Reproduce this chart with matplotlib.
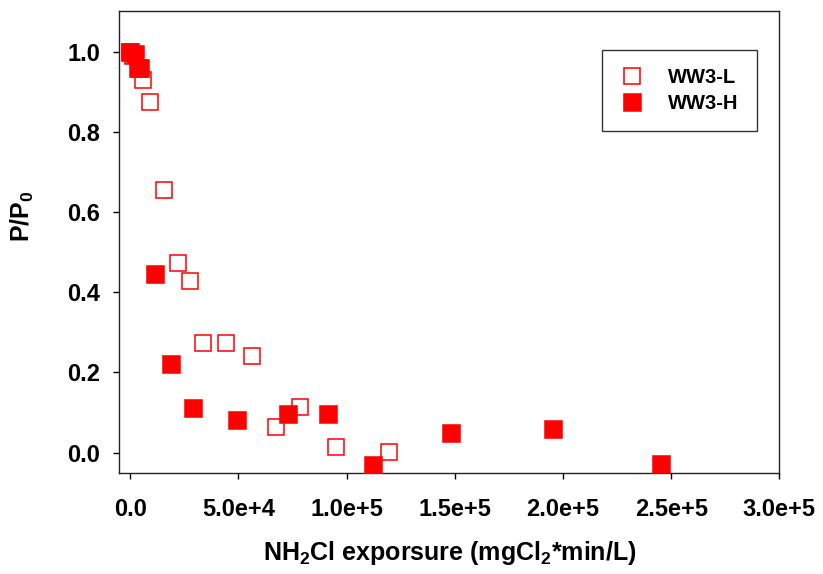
import numpy as np
import matplotlib
matplotlib.use("Agg")
import matplotlib.pyplot as plt

plt.rcParams['font.family'] = ['Liberation Sans', 'DejaVu Sans']
plt.rcParams['font.weight'] = 'bold'
plt.rcParams['mathtext.fontset'] = 'custom'
plt.rcParams['mathtext.rm'] = 'Liberation Sans:bold'
plt.rcParams['mathtext.default'] = 'rm'

# WW3-L (open squares)
low_x = [0, 1500, 6000, 9240, 15560, 22320, 27710, 33720, 44340, 56200,
         67440, 78600, 95150, 119630]
low_y = [1.0, 0.99, 0.929, 0.875, 0.656, 0.474, 0.429, 0.273, 0.273, 0.2415,
         0.063, 0.1145, 0.0134, 0.0005]

# WW3-H (filled squares)
high_x = [0, 2450, 3830, 4750, 11460, 18940, 29100, 49400, 72750, 91460,
          112240, 148270, 195540, 245500]
high_y = [1.0, 0.995, 0.958, 0.958, 0.446, 0.221, 0.111, 0.081, 0.096, 0.097,
          -0.032, 0.050, 0.058, -0.028]

xticks = [0, 5e4, 1e5, 1.5e5, 2e5, 2.5e5, 3e5]
xticklabels = ['0.0', '5.0e+4', '1.0e+5', '1.5e+5', '2.0e+5', '2.5e+5', '3.0e+5']
yticks = [0.0, 0.2, 0.4, 0.6, 0.8, 1.0]

fig = plt.figure(figsize=(8.23, 5.74), dpi=100)
ax = fig.add_axes([0.145, 0.1765, 0.802, 0.805])

ax.plot(low_x, low_y, 's', ls='none', markersize=11.5, markerfacecolor='none',
        markeredgecolor='#ff0000', markeredgewidth=1.1, label='WW3-L', zorder=3)
ax.plot(high_x, high_y, 's', ls='none', markersize=12.6, markerfacecolor='#ff0000',
        markeredgecolor='#ff0000', markeredgewidth=0.4, label='WW3-H', zorder=4)

ax.set_xlim(-5000, 3e5)
ax.set_ylim(-0.05, 1.102)
ax.set_xticks(xticks)
ax.set_xticklabels(xticklabels)
ax.set_yticks(yticks)
ax.set_yticklabels(['%.1f' % v for v in yticks])

ax.tick_params(axis='both', direction='out', length=4, width=1, labelsize=17,
               top=False, right=False)
ax.tick_params(axis='x', pad=14)
ax.tick_params(axis='y', pad=10)
for s in ax.spines.values():
    s.set_linewidth(1)
    s.set_color('#222222')

ax.set_xlabel(r'NH$_2$Cl exporsure (mgCl$_2$*min/L)', fontsize=18, fontweight='bold',
              labelpad=13)
ax.set_ylabel(r'P/P$_0$', fontsize=18, fontweight='bold')
ax.yaxis.set_label_coords(-0.126, 0.555)

leg = ax.legend(loc='upper right', bbox_to_anchor=(0.9658, 0.915),
                frameon=True, fancybox=False, edgecolor='black', borderpad=0.9,
                handlelength=1.2, handletextpad=1.2, labelspacing=0.35,
                borderaxespad=0, prop={'weight': 'bold', 'size': 14.5})
leg.get_frame().set_linewidth(1)

fig.savefig('out.png', dpi=100)
